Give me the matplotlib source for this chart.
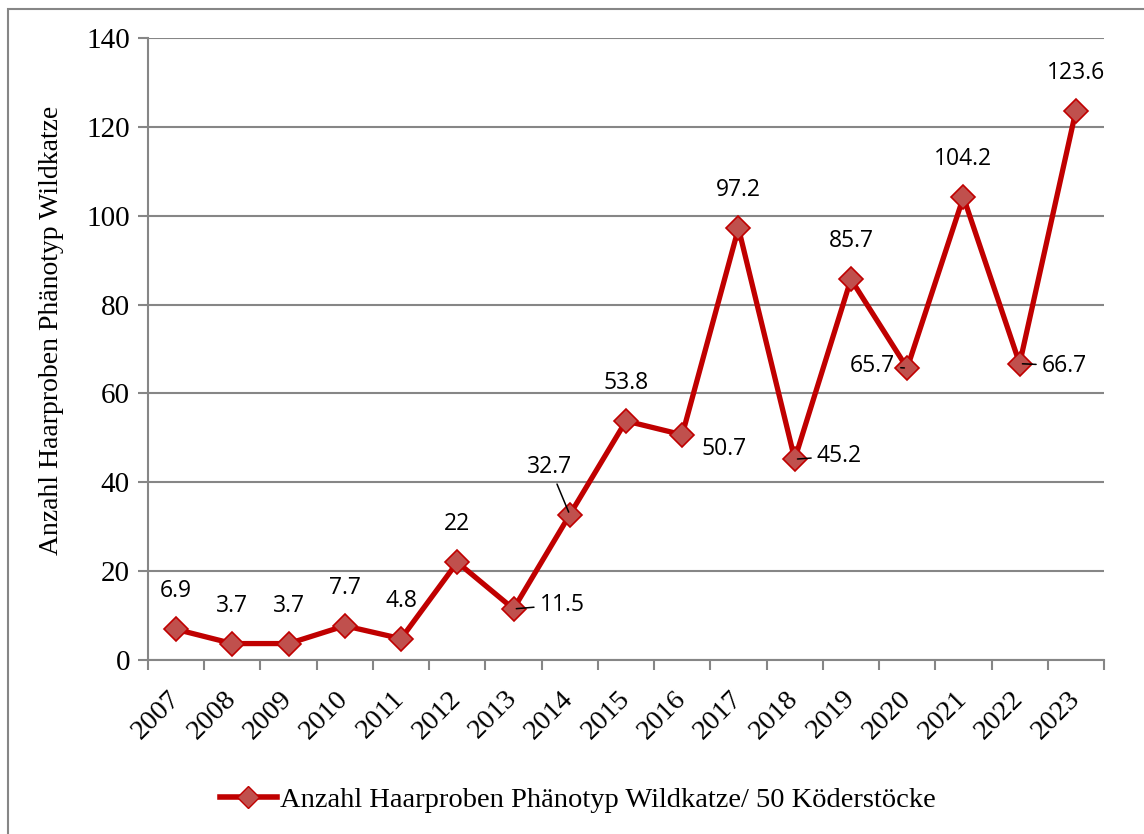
import numpy as np
import matplotlib
matplotlib.use("Agg")
from matplotlib import pyplot as plt
from matplotlib.lines import Line2D
from matplotlib.patches import Rectangle

years = ["2007", "2008", "2009", "2010", "2011", "2012", "2013", "2014",
         "2015", "2016", "2017", "2018", "2019", "2020", "2021", "2022", "2023"]
werte = [6.9, 3.7, 3.7, 7.7, 4.8, 22, 11.5, 32.7,
         53.8, 50.7, 97.2, 45.2, 85.7, 65.7, 104.2, 66.7, 123.6]
label_text = ["6.9", "3.7", "3.7", "7.7", "4.8", "22", "11.5", "32.7",
              "53.8", "50.7", "97.2", "45.2", "85.7", "65.7", "104.2", "66.7", "123.6"]
serie_name = "Anzahl Haarproben Phänotyp Wildkatze/ 50 Köderstöcke"

# label placement (offset in pixels, alignment, leader line)
lab_pos = {
    6: ((26, 4), "left", "center", True),
    7: ((-20, 48), "center", "center", True),
    9: ((42, -14), "center", "center", False),
    11: ((22, 3), "left", "center", True),
    13: ((-12, 2), "right", "center", True),
    15: ((22, -2), "left", "center", True),
}

serif = "Liberation Serif"
sans = "Open Sans"
rot = "#C00000"
grau = "#868686"

fig = plt.figure(figsize=(11.44, 8.34), dpi=100)
ax = fig.add_axes([148 / 1144, 1 - 660 / 834, (1104 - 148) / 1144, (660 - 38) / 834])

x = np.arange(len(years))
ax.plot(x, werte, color=rot, linewidth=3.8, marker="D", markersize=12.5,
        markerfacecolor="#C0504D", markeredgecolor=rot, markeredgewidth=1.2,
        zorder=3, clip_on=False)

for i, (v, t) in enumerate(zip(werte, label_text)):
    if i in lab_pos:
        off, ha, va, leader = lab_pos[i]
    else:
        off, ha, va, leader = (0, 38), "center", "center", False
    arrow = None
    if leader:
        arrow = dict(arrowstyle="-", color="black", lw=1.1, shrinkA=2, shrinkB=2)
    ax.annotate(t, (i, v), xytext=off, textcoords="offset pixels",
                ha=ha, va=va, fontsize=16.5, family=sans, color="black",
                arrowprops=arrow, zorder=4)

ax.set_xlim(-0.5, len(years) - 0.5)
ax.set_ylim(0, 140)
ax.set_yticks(np.arange(0, 141, 20))
ax.yaxis.grid(True, color=grau, linewidth=1.5)
ax.set_axisbelow(True)

ax.set_xticks(x)
ax.set_xticklabels(years, rotation=45, ha="right", va="center",
                   rotation_mode="anchor", fontsize=20.5, family=serif)
ax.set_xticks(np.arange(-0.5, len(years), 1), minor=True)
ax.tick_params(axis="x", which="major", length=0, pad=25)
ax.tick_params(axis="x", which="minor", length=7, width=1.5, color=grau)
ax.tick_params(axis="y", length=7, width=1.5, color=grau, pad=6)
for lab in ax.get_yticklabels():
    lab.set_family(serif)
    lab.set_fontsize(21)

for s in ["top", "right"]:
    ax.spines[s].set_visible(False)
for s in ["left", "bottom"]:
    ax.spines[s].set_color(grau)
    ax.spines[s].set_linewidth(1.5)

ax.set_ylabel("Anzahl Haarproben Phänotyp Wildkatze", fontsize=20,
              family=serif)
ax.yaxis.set_label_coords(-0.088, 0.53)

handle = Line2D([], [], color=rot, linewidth=4, marker="D", markersize=11,
                markerfacecolor="#C0504D", markeredgecolor=rot)
fig.legend([handle], [serie_name], loc="center", bbox_to_anchor=(0.505, 1 - 800 / 834),
           frameon=False, prop={"family": serif, "size": 20.5},
           handlelength=2.0, handletextpad=0.1)

# outer chart border
fig.patches.append(Rectangle((8 / 1144, -0.1), 1.2, 1.1 - 9 / 834,
                             transform=fig.transFigure, fill=False,
                             edgecolor=grau, linewidth=1.5))

fig.savefig("out.png", dpi=100)
